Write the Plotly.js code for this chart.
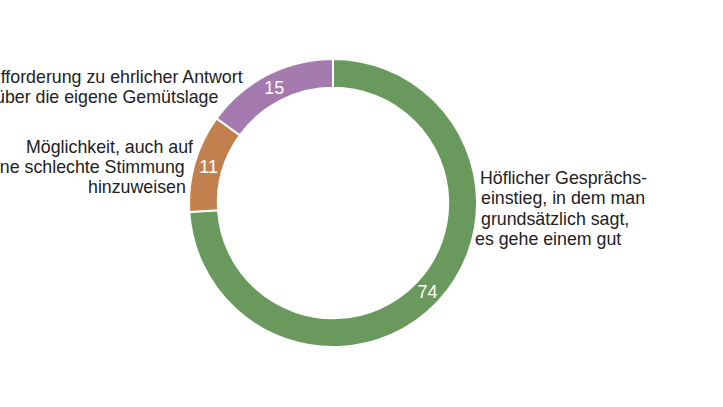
<!DOCTYPE html>
<html><head><meta charset="utf-8">
<script src="https://cdn.plot.ly/plotly-3.0.1.min.js"></script>
<style>html,body{margin:0;padding:0;background:#fff}#chart{width:723px;height:407px}</style>
</head><body><div id="chart"></div>
<script>
const categories = [
  "Höflicher Gesprächs-<br>einstieg, in dem man<br>grundsätzlich sagt,<br>es gehe einem gut",
  "Möglichkeit, auch auf<br>eine schlechte Stimmung<br>hinzuweisen",
  "Aufforderung zu ehrlicher Antwort<br>über die eigene Gemütslage"
];
const values = [74, 11, 15];
const colors = ["#6a995d", "#c1804d", "#a57baf"];

const trace = {
  type: "pie",
  values: values,
  labels: categories,
  text: values.map(String),
  textinfo: "text",
  textposition: "inside",
  insidetextorientation: "horizontal",
  insidetextfont: {family: "Liberation Sans, Arial, sans-serif", size: 18, color: "#ffffff"},
  hole: 0.8,
  sort: false,
  direction: "clockwise",
  rotation: 0,
  marker: {colors: colors, line: {color: "#ffffff", width: 2}},
  domain: {x: [0.2614, 0.6598], y: [0.1474, 0.855]},
  showlegend: false,
  hoverinfo: "label+value"
};

// per-line placement of the outside category labels (layout only)
const labelLayout = [
  {anchor: "left",  xs: [478, 479, 479, 473], ys: [177.5, 198, 218.5, 239]},
  {anchor: "right", xs: [195, 187, 188],      ys: [146.5, 166.5, 186.5]},
  {anchor: "right", xs: [245, 221],           ys: [76.5, 97.5]}
];
const labelFont = {family: "Liberation Sans, Arial, sans-serif", size: 17.8, color: "#222222"};
const annotations = [];
categories.forEach((cat, i) => {
  const lines = cat.split("<br>");
  const L = labelLayout[i];
  lines.forEach((ln, j) => {
    annotations.push({
      text: ln, xref: "paper", yref: "paper",
      x: L.xs[j] / 723, y: 1 - L.ys[j] / 407,
      xanchor: L.anchor, yanchor: "middle", align: L.anchor,
      showarrow: false, font: labelFont
    });
  });
});

Plotly.newPlot("chart", [trace], {
  width: 723, height: 407,
  margin: {l: 0, r: 0, t: 0, b: 0},
  paper_bgcolor: "#ffffff",
  annotations: annotations
}, {displayModeBar: false, staticPlot: true});
</script></body></html>
